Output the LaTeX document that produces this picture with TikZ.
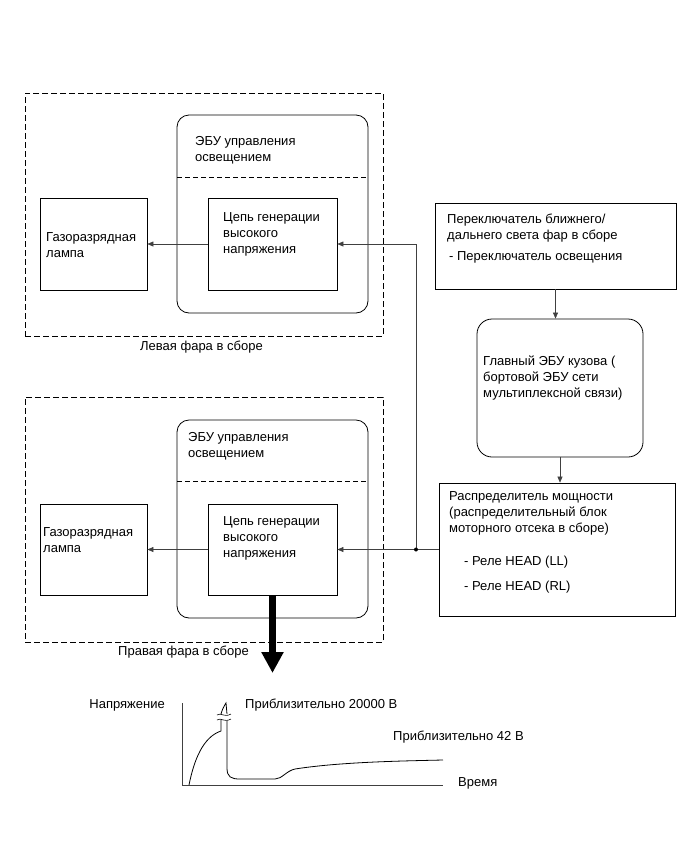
\documentclass[tikz,border=0pt]{standalone}
\usepackage{fontspec}
\setmainfont{Liberation Sans}
\usetikzlibrary{arrows.meta}

\begin{document}
\begin{tikzpicture}[x=1pt, y=-1pt, font=\fontsize{13}{16}\selectfont,
    box/.style={draw, line width=0.8pt, inner sep=0pt},
    ecubox/.style={box, rounded corners=12pt},
    headbox/.style={draw, line width=0.8pt, dash pattern=on 6pt off 3pt, inner sep=0pt},
    txt/.style={anchor=west, align=left, inner sep=0pt},
    wire/.style={line width=0.5pt, black!75},
    conn/.style={wire, -{Triangle[length=6pt, width=5pt]}}]

    \useasboundingbox (0,0) rectangle (691,855);

    %Left headlight assembly
    \node (headL) at (204,214.5) [headbox, minimum width=358pt, minimum height=243pt] {};
    \node (ecuL) at (272.5,214) [ecubox, minimum width=191pt, minimum height=198pt] {};
    \draw[line width=0.8pt, dash pattern=on 5pt off 3pt] (177,177) -- (368,177);
    \node (lampL) at (93.5,244) [box, minimum width=107pt, minimum height=92pt] {};
    \node (genL) at (272.5,244) [box, minimum width=129pt, minimum height=92pt] {};

    \node (ecuLtxt) at (195,150) [txt] {ЭБУ управления\\освещением};
    \node (lampLtxt) at (46,245) [txt] {Газоразрядная\\лампа};
    \node (genLtxt) at (223,234) [txt] {Цепь генерации\\высокого\\напряжения};
    \node (headLtxt) at (140,347) [txt] {Левая фара в сборе};

    %Right headlight assembly
    \node (headR) at (204,519.5) [headbox, minimum width=358pt, minimum height=245pt] {};
    \node (ecuR) at (272.5,519) [ecubox, minimum width=191pt, minimum height=198pt] {};
    \draw[line width=0.8pt, dash pattern=on 5pt off 3pt] (177,481) -- (368,481);
    \node (lampR) at (93.5,549.5) [box, minimum width=107pt, minimum height=91pt] {};
    \node (genR) at (272.5,549.5) [box, minimum width=129pt, minimum height=91pt] {};

    \node (ecuRtxt) at (188,446) [txt] {ЭБУ управления\\освещением};
    \node (lampRtxt) at (43,540) [txt] {Газоразрядная\\лампа};
    \node (genRtxt) at (223,538) [txt] {Цепь генерации\\высокого\\напряжения};
    \node (headRtxt) at (118,652) [txt] {Правая фара в сборе};

    %Switch, body ECU, power distributor
    \node (switch) at (555.5,246) [box, minimum width=241pt, minimum height=86pt] {};
    \node (main) at (560,388) [box, rounded corners=15pt, minimum width=166pt, minimum height=138pt] {};
    \node (dist) at (557,549.5) [box, minimum width=236pt, minimum height=133pt] {};

    \node (switchtxt) at (447,239) [txt] {Переключатель ближнего/\\дальнего света фар в сборе\\[5pt]\hspace{2pt}- Переключатель освещения};
    \node (maintxt) at (483,378) [txt] {Главный ЭБУ кузова (\\бортовой ЭБУ сети\\мультиплексной связи)};
    \node (disttxt) at (449,513) [txt] {Распределитель мощности\\(распределительный блок\\моторного отсека в сборе)};
    \node (relaytxt) at (464,575) [txt] {- Реле HEAD (LL)\\[9pt]- Реле HEAD (RL)};

    %Connections
    \coordinate (bus) at (416,549.5);
    \draw[conn] (switch.south) -- (switch.south |- main.north);
    \draw[conn] (main.south) -- (main.south |- dist.north);
    \draw[wire] (dist.west) -- (bus);
    \draw[conn] (bus) -- (genR.east);
    \draw[conn] (bus) |- (genL.east);
    \draw[conn] (genL.west) -- (lampL.east);
    \draw[conn] (genR.west) -- (lampR.east);
    \fill (bus) circle (2pt);

    %Output to waveform
    \draw[line width=7pt, -{Triangle[length=21pt, width=21pt]}] (genR.south) -- (272.5,673);

    %Waveform
    \draw[wire] (182,703) -- (182,785) -- (443,785);
    \draw[line width=0.8pt] (189,785) .. controls (194,760) and (203,737) .. (221,731) -- (221,720);
    \draw[line width=0.8pt] (221,714) .. controls (222,710) and (224,706) .. (226,703) -- (227,714);
    \draw[line width=0.8pt] (227,721) -- (227,768) .. controls (227,777) and (231,779) .. (240,779)
        -- (275,779) .. controls (282,779) and (286,771) .. (295,769)
        .. controls (340,762) and (400,761) .. (443,760);
    \draw[line width=0.6pt] (217,715) .. controls (221,712) and (224,718) .. (231,714);
    \draw[line width=0.6pt] (217,720) .. controls (221,717) and (224,723) .. (231,719);

    \node (volt) at (165,705) [txt, anchor=east] {Напряжение};
    \node (approxhigh) at (245,705) [txt] {Приблизительно 20000 В};
    \node (approxlow) at (393,737) [txt] {Приблизительно 42 В};
    \node (time) at (458,783) [txt] {Время};

\end{tikzpicture}
\end{document}
